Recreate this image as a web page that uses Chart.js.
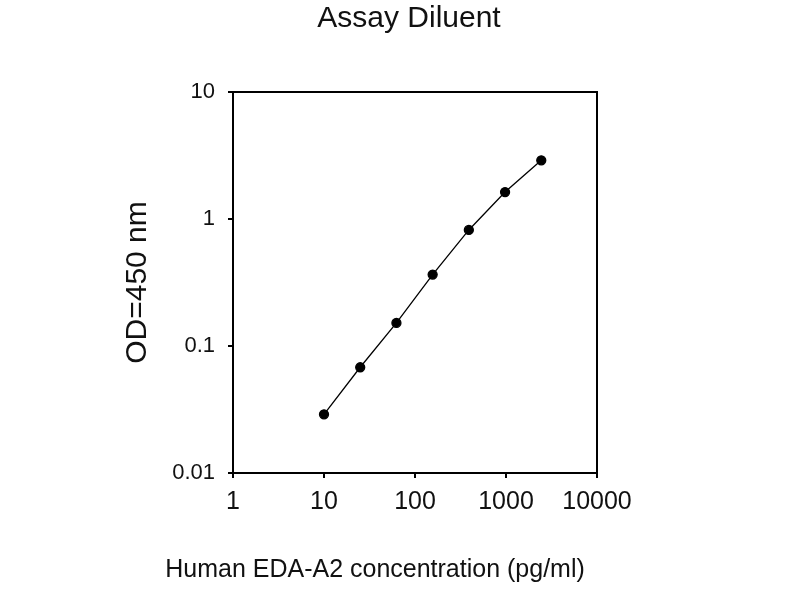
<!DOCTYPE html>
<html>
<head>
<meta charset="utf-8">
<script src="https://cdn.jsdelivr.net/npm/chart.js@4"></script>
<style>
  body { margin: 0; background: #fff; }
  canvas { display: block; }
</style>
</head>
<body>
<canvas id="chart" width="800" height="600"></canvas>
<script>
// standard curve (log-log)
var concentrations = [10, 25, 62.5, 156.3, 390.6, 976.6, 2441]
var odValues       = [0.029, 0.068, 0.152, 0.365, 0.82, 1.63, 2.9]

var xTickValues = [1, 10, 100, 1000, 10000]
var yTickValues = [0.01, 0.1, 1, 10]

var chartTitle = 'Assay Diluent'
var xTitle     = 'Human EDA-A2 concentration (pg/ml)'
var yTitle     = 'OD=450 nm'

var fontFamily = '"Liberation Sans", Arial, sans-serif'
var ink = '#111'

// chart title and x axis title sit off-centre in the original, so draw them here
var textPlugin = {
  id: 'freeText'
, afterDraw: function(chart) {
    var ctx = chart.ctx
    ctx.save()
    ctx.fillStyle = ink
    ctx.textAlign = 'center'
    ctx.textBaseline = 'middle'
    ctx.font = '30px ' + fontFamily
    ctx.fillText(chartTitle, 409, 19)
    ctx.font = '25px ' + fontFamily
    ctx.fillText(xTitle, 375, 570)
    ctx.restore()
  }
}

// closed box round the plot area
var framePlugin = {
  id: 'frame'
, beforeDatasetsDraw: function(chart) {
    var a = chart.chartArea
    var ctx = chart.ctx
    ctx.save()
    ctx.strokeStyle = '#000'
    ctx.lineWidth = 2
    ctx.strokeRect(a.left, a.top, a.right - a.left, a.bottom - a.top)
    ctx.restore()
  }
}

function decadeTicks(values) {
  return function(scale) {
    scale.ticks = values.map(v => ({value: v}))
  }
}

var ctx = document.getElementById('chart').getContext('2d')

new Chart(ctx, {
  type: 'line'
, data: {
    datasets: [{
      data: concentrations.map((x, i) => ({x: x, y: odValues[i]}))
    , borderColor: '#000'
    , borderWidth: 1.3
    , pointRadius: 4.5
    , pointBackgroundColor: '#000'
    , pointBorderColor: '#000'
    , tension: 0
    , clip: false
    }]
  }
, options: {
    responsive: false
  , animation: false
  , layout: {padding: {left: 100, right: 203, top: 92, bottom: 0}}
  , plugins: {legend: {display: false}, tooltip: {enabled: false}}
  , scales: {
      x: {
        type: 'logarithmic'
      , min: 1
      , max: 10000
      , afterBuildTicks: decadeTicks(xTickValues)
      , afterFit: s => { s.height = 127 }
      , ticks: {
          callback: v => String(v)
        , font: {family: fontFamily, size: 25}
        , color: ink
        , padding: 9
        , maxRotation: 0
        , autoSkip: false
        }
      , grid: {drawOnChartArea: false, tickLength: 5, color: '#000', lineWidth: 2}
      , border: {color: '#000', width: 2}
      }
    , y: {
        type: 'logarithmic'
      , min: 0.01
      , max: 10
      , afterBuildTicks: decadeTicks(yTickValues)
      , afterFit: s => { s.width = 133 }
      , ticks: {
          callback: v => String(v)
        , font: {family: fontFamily, size: 22}
        , color: ink
        , padding: 13
        , autoSkip: false
        }
      , grid: {drawOnChartArea: false, tickLength: 5, color: '#000', lineWidth: 2}
      , border: {color: '#000', width: 2}
      , title: {
          display: true
        , text: yTitle
        , font: {family: fontFamily, size: 30}
        , color: ink
        , padding: {top: 20, bottom: 0}
        }
      }
    }
  }
, plugins: [framePlugin, textPlugin]
})
</script>
</body>
</html>
